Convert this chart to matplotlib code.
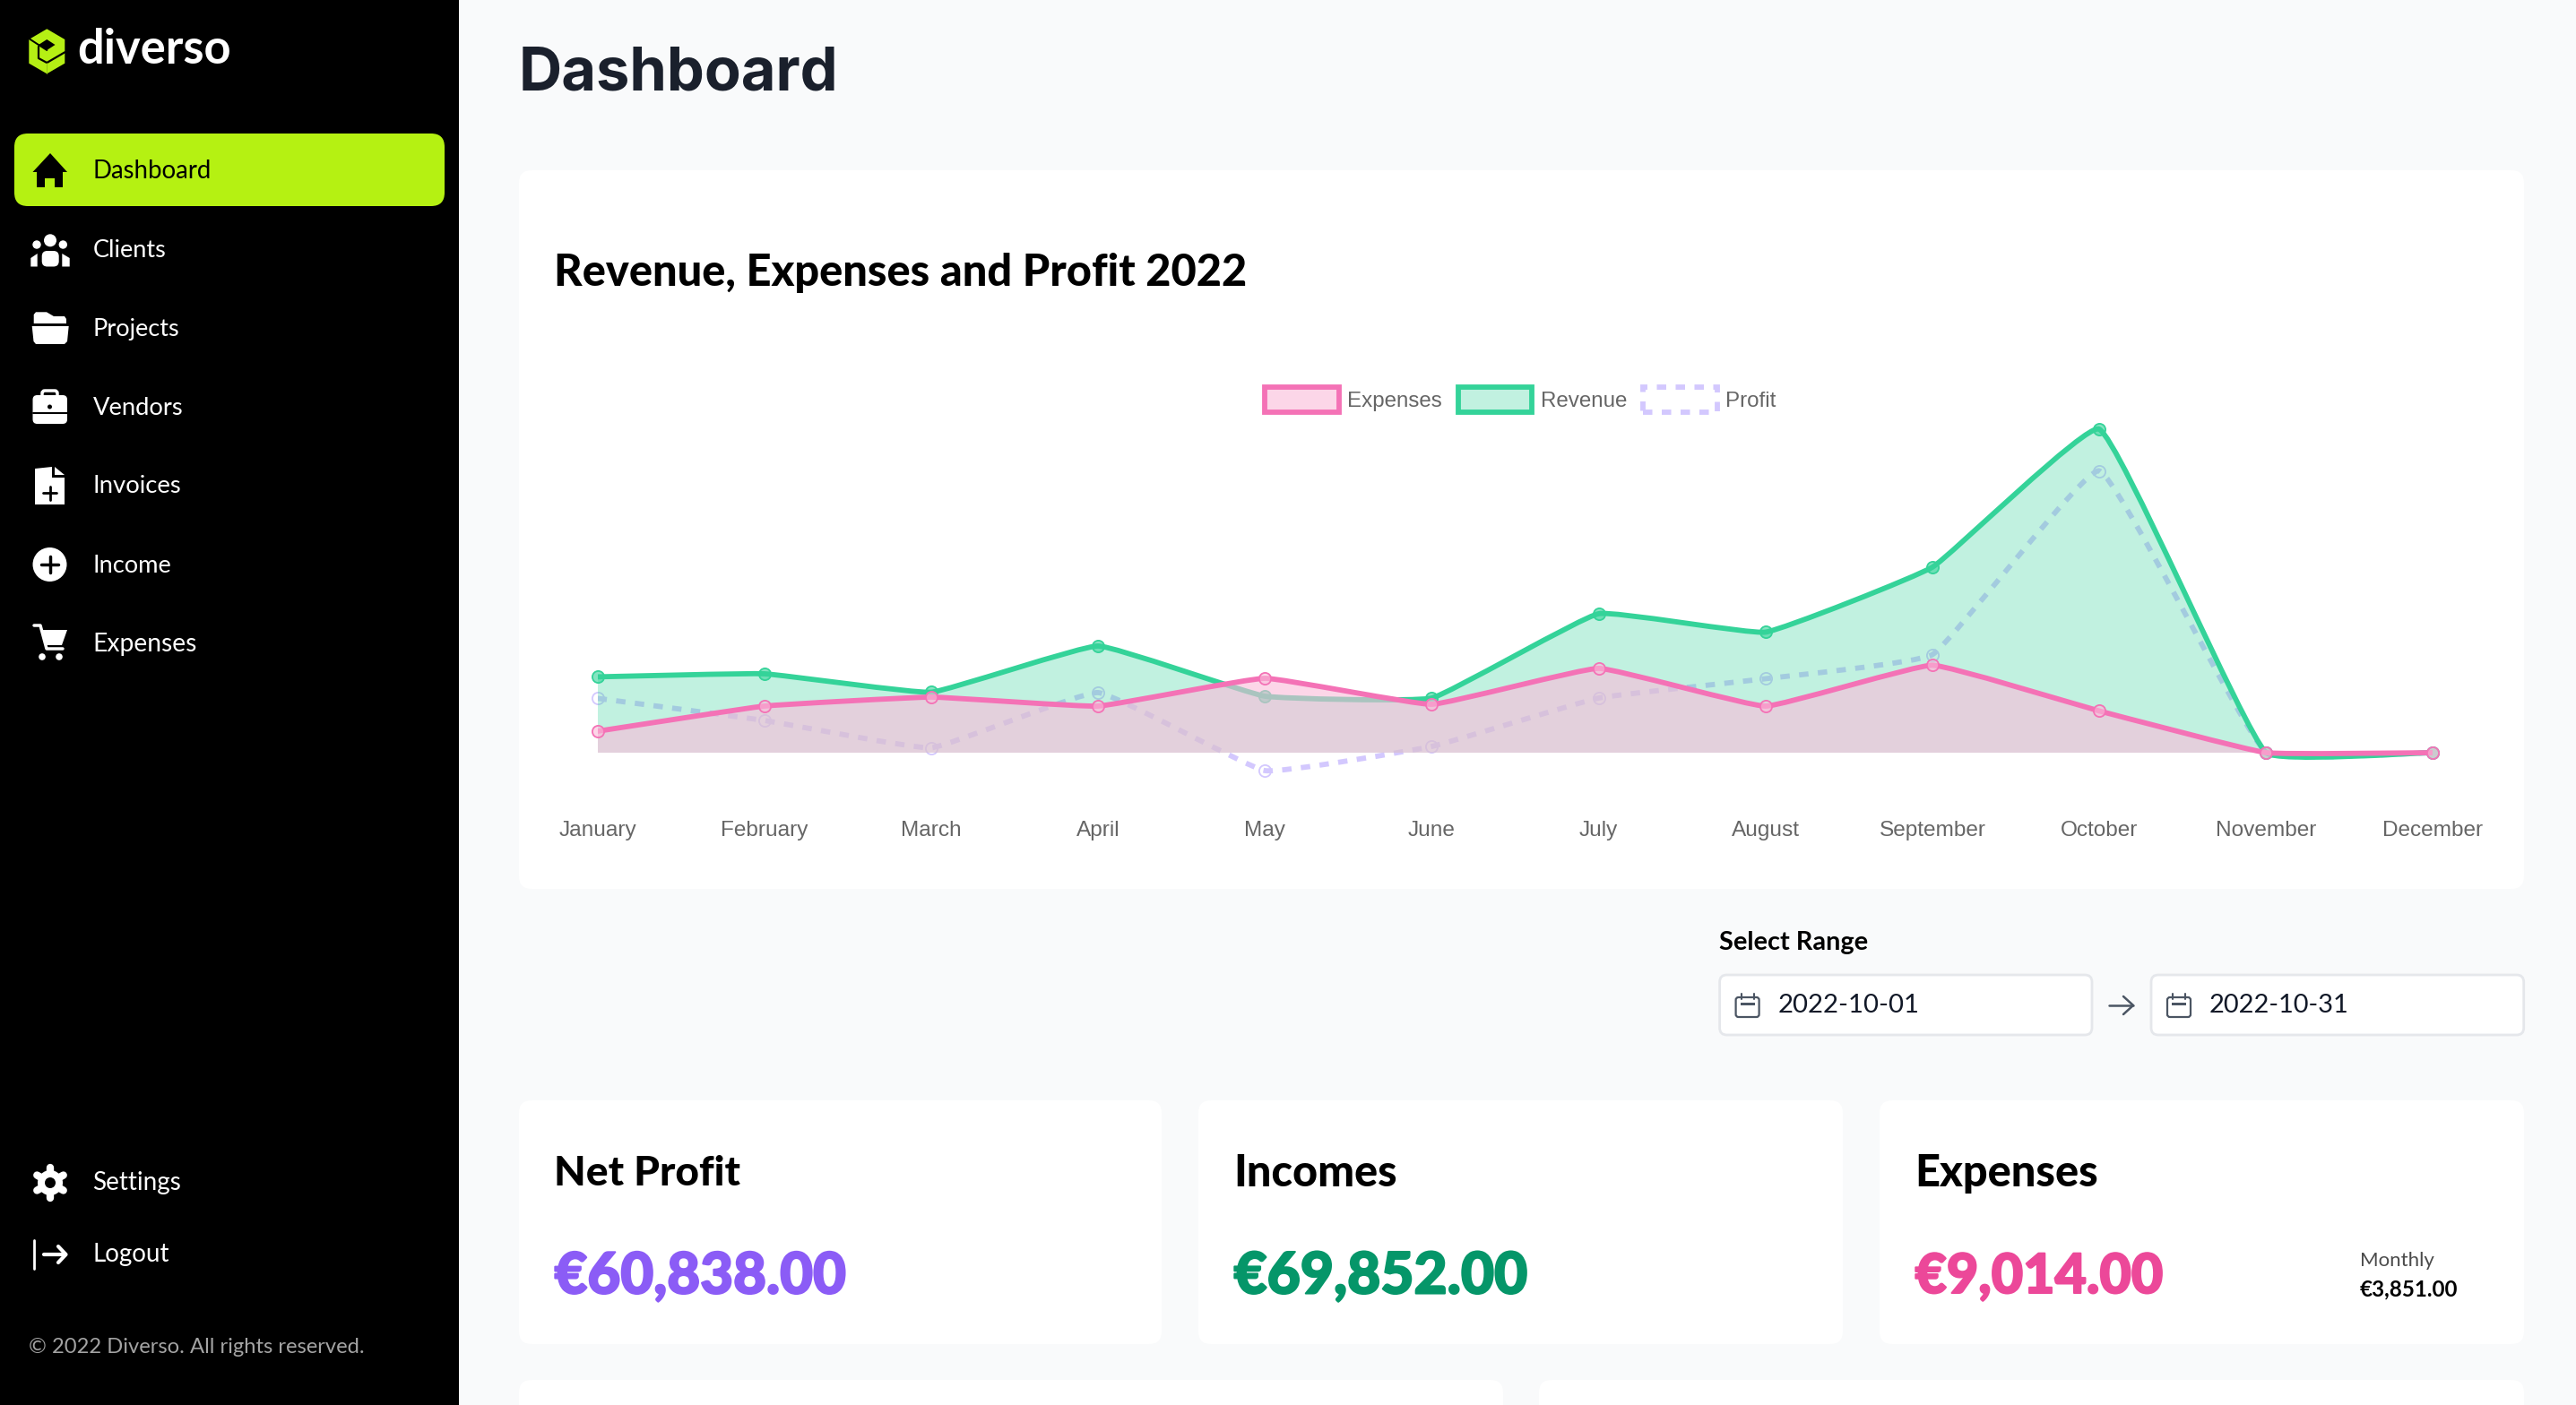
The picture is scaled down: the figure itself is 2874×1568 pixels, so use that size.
import numpy as np
import matplotlib
matplotlib.use('Agg')
import matplotlib.pyplot as plt
import matplotlib.patheffects as pe
from matplotlib.patches import Circle, FancyBboxPatch, Patch, PathPatch, Polygon, Rectangle
from matplotlib.path import Path

W, H = 2874, 1568
BASE_FONT = 'Lato'

months = ['January', 'February', 'March', 'April', 'May', 'June', 'July',
          'August', 'September', 'October', 'November', 'December']
revenue = [16370, 17030, 13060, 23030, 12190, 11800, 30000, 26030, 40050, 69852, 0, 0]
expenses = [4640, 10060, 12000, 10060, 16060, 10450, 18200, 10060, 18880, 9014, 0, 0]
profit = [11730, 6970, 1060, 12970, -3870, 1350, 11800, 15970, 21170, 60838, 0, 0]

GREEN, PINK, PURPLE = '#34d399', '#f472b6', '#d3c8fe'
PX_PER_EURO = 1 / 193.45

fig = plt.figure(figsize=(W / 100, H / 100), dpi=100, facecolor='#f9fafb')

# page axes in screen pixels, y pointing down
page = fig.add_axes([0, 0, 1, 1])
page.set_xlim(0, W)
page.set_ylim(H, 0)
page.axis('off')


def box(x0, y0, x1, y1, r=14, fc='white', ec='none', lw=0, z=1):
    page.add_patch(FancyBboxPatch((x0, y0), x1 - x0, y1 - y0, boxstyle=f'round,pad=0,rounding_size={r}',
                                  fc=fc, ec=ec, lw=lw, zorder=z))


def label(x, y, s, width, color='black', weight='normal', family=BASE_FONT):
    # the size follows from the width the text has in the screenshot
    t = page.text(x, y, s, color=color, fontweight=weight, family=family, fontsize=20, va='center', ha='left', zorder=5)
    bb = t.get_window_extent(fig.canvas.get_renderer())
    t.set_fontsize(20 * width / bb.width)
    return t


def poly(pts, fc='white', z=4):
    page.add_patch(Polygon(pts, closed=True, fc=fc, ec='none', zorder=z))


def dot(x, y, r, fc='white', z=4):
    page.add_patch(Circle((x, y), r, fc=fc, ec='none', zorder=z))


def stroke(xs, ys, color='white', lw=2.5, z=4):
    page.plot(xs, ys, color=color, lw=lw, solid_capstyle='round', solid_joinstyle='round', zorder=z)


def icon_home(c):
    poly([(36.5, 192), (56, 171), (75, 192), (70, 192), (70, 209), (61, 209), (61, 199), (50, 199), (50, 209), (41, 209), (41, 192)], fc=c)


def icon_clients(c):
    dot(56, 268.3, 7, fc=c)
    dot(41, 273, 4.7, fc=c)
    dot(70.3, 273, 4.7, fc=c)
    box(46.7, 280, 65.7, 297.5, r=6, fc=c, z=4)
    poly([(34.3, 297.5), (34.3, 288), (41.7, 283), (41.7, 297.5)], fc=c)
    poly([(77.7, 297.5), (77.7, 288), (69.3, 283), (69.3, 297.5)], fc=c)


def icon_folder(c):
    poly([(37.7, 361), (37.7, 351), (40, 348.3), (52, 348.3), (60, 353), (72, 353), (74, 356), (74, 361)], fc=c)
    poly([(35.7, 364), (76.7, 364), (75, 381), (72, 384), (40, 384), (37.5, 381)], fc=c)


def icon_case(c):
    box(36.5, 441, 75, 473, r=5, fc=c, z=4)
    page.add_patch(FancyBboxPatch((47, 436), 17, 9, boxstyle='round,pad=0,rounding_size=3', fc='none', ec=c, lw=2.5, zorder=4))
    stroke([36.5, 75], [461, 461], color='black', lw=1.5)
    dot(55.5, 454, 2.5, fc='black', z=5)


def icon_doc(c):
    poly([(39, 523), (58, 521), (58, 533), (72, 533), (72, 563), (39, 563)], fc=c)
    poly([(61, 521), (72, 530), (61, 530)], fc=c)
    stroke([48, 63], [550, 550], color='black', lw=2)
    stroke([55.5, 55.5], [543, 558], color='black', lw=2)


def icon_plus(c):
    dot(55.5, 630, 19, fc=c)
    stroke([46, 65], [630, 630], color='black', lw=2.5)
    stroke([55.5, 55.5], [621, 639], color='black', lw=2.5)


def icon_cart(c):
    stroke([38, 45, 52, 70], [698, 698, 724, 724], color=c, lw=2.5)
    poly([(46, 703), (75, 703), (69, 720), (50, 720)], fc=c)
    dot(47, 733, 3.8, fc=c)
    dot(66, 733, 3.8, fc=c)


def icon_gear(c):
    for a in np.arange(0, 360, 60):
        ca, sa = np.cos(np.radians(a + 90)), np.sin(np.radians(a + 90))
        stroke([56, 56 + 17 * ca], [1320, 1320 + 17 * sa], color=c, lw=6)
    dot(56, 1320, 14, fc=c)
    dot(56, 1320, 6, fc='black', z=5)


def icon_logout(c):
    stroke([38, 38], [1384, 1416], color=c, lw=2)
    stroke([49, 73], [1400, 1400], color=c, lw=3)
    stroke([65, 73.5, 65], [1391, 1400, 1409], color=c, lw=3)


def icon_calendar(x):
    c = '#4b5563'
    page.add_patch(FancyBboxPatch((x, 1113), 26, 22, boxstyle='round,pad=0,rounding_size=3', fc='none', ec=c, lw=1.6, zorder=4))
    stroke([x + 6, x + 6], [1109, 1115], color=c, lw=1.5)
    stroke([x + 20, x + 20], [1109, 1115], color=c, lw=1.5)
    page.add_patch(Rectangle((x + 5, 1119), 16, 3, fc=c, ec='none', zorder=4))


# sidebar
page.add_patch(Rectangle((0, 0), 512, H, fc='black', ec='none', zorder=1))
box(16, 149, 496, 230, r=15, fc='#b5f112', z=2)

# logo
LOGO = '#b5ef14'
poly([(52.3, 32.3), (72.3, 44), (72.3, 70.7), (52.3, 82.3), (32.3, 70.7), (32.3, 44)], fc=LOGO)
poly([(52.3, 44), (61.5, 50), (52.3, 56), (43, 50)], fc='black')
stroke([33, 43, 52.3], [43.5, 50, 56], color='black', lw=1.4, z=5)
stroke([43, 43, 52.3, 72.3], [52, 65, 70, 58.3], color='black', lw=1.6, z=5)
stroke([52.3, 52.3], [70, 82], color='#8fc010', lw=0.6, z=5)
label(86, 55, 'diverso', 172, color='white', weight='bold')

menu = [('Dashboard', 191, 132.7, icon_home), ('Clients', 279, 82.3, icon_clients), ('Projects', 367, 97, icon_folder),
        ('Vendors', 455, 101, icon_case), ('Invoices', 543, 99, icon_doc), ('Income', 631, 88.3, icon_plus),
        ('Expenses', 719, 116.7, icon_cart), ('Settings', 1320, 98.7, icon_gear), ('Logout', 1400, 85.4, icon_logout)]
for name, y, width, icon in menu:
    active = name == 'Dashboard'
    label(103.5, y, name, width, color='black' if active else 'white')
    icon('black' if active else 'white')
label(32, 1503, '© 2022 Diverso. All rights reserved.', 376, color='#a3a3a3')

# main area
label(579, 83, 'Dashboard', 358, color='#1a202c', weight='bold', family='Inter')
box(579, 190, 2816, 992)
label(618, 304, 'Revenue, Expenses and Profit 2022', 774, weight='black')

# chart axes, placed so January and December sit where they do in the page
top, bottom = 470, 880
chart = fig.add_axes([666.6 / W, 1 - bottom / H, (2714.4 - 666.6) / W, (bottom - top) / H], facecolor='none', zorder=3)
chart.set_xlim(0, 11)
chart.set_ylim(-(bottom - 840) / PX_PER_EURO, (840 - top) / PX_PER_EURO)
for side in chart.spines.values():
    side.set_visible(False)
chart.set_yticks([])
chart.set_xticks(range(12), months, family='Liberation Sans', fontsize=17.6, color='#666666')
chart.tick_params(axis='x', length=0, pad=26)


def bezier_path(values, tension=0.1):
    # same control points as chart.js line tension, worked out in screen space
    pts = chart.transData.transform(np.column_stack([np.arange(len(values)), values]))
    verts = [pts[0]]
    for i in range(len(pts) - 1):
        p0, p1, p2, p3 = pts[max(i - 1, 0)], pts[i], pts[i + 1], pts[min(i + 2, len(pts) - 1)]
        for_a = np.linalg.norm(p1 - p0), np.linalg.norm(p2 - p1)
        for_b = np.linalg.norm(p2 - p1), np.linalg.norm(p3 - p2)
        c1 = p1 + tension * for_a[1] / sum(for_a) * (p2 - p0)
        c2 = p2 - tension * for_b[0] / sum(for_b) * (p3 - p1)
        verts += [c1, c2, p2]
    return chart.transData.inverted().transform(np.array(verts))


def draw_series(values, color, fill_color, fill_alpha, z, dashed=False):
    verts = bezier_path(values)
    codes = [Path.MOVETO] + [Path.CURVE4] * (len(verts) - 1)
    if fill_color:
        area = np.vstack([verts, [[11, 0], [0, 0], verts[0]]])
        area_codes = codes + [Path.LINETO, Path.LINETO, Path.CLOSEPOLY]
        chart.add_patch(PathPatch(Path(area, area_codes), fc=fill_color, alpha=fill_alpha, ec='none', zorder=z))
    line = PathPatch(Path(verts, codes), fc='none', ec=color, lw=4.2, zorder=z + 0.1, capstyle='butt')
    if dashed:
        line.set_linestyle((0, (1.8, 1.8)))
    chart.add_patch(line)
    face = matplotlib.colors.to_rgba(fill_color, 0.6) if fill_color else 'none'
    chart.plot(range(12), values, ls='none', marker='o', ms=9.5, mfc=face, mec=color, mew=1.3, zorder=z + 0.2, clip_on=False)


# first dataset is drawn last
draw_series(profit, PURPLE, None, 0, 1, dashed=True)
draw_series(revenue, GREEN, GREEN, 0.3, 2)
draw_series(expenses, PINK, '#fabbda', 0.6, 3)

handles = [Patch(fc=matplotlib.colors.to_rgba('#fabbda', 0.6), ec=PINK, lw=4.2, label='Expenses'),
           Patch(fc=matplotlib.colors.to_rgba(GREEN, 0.3), ec=GREEN, lw=4.2, label='Revenue'),
           Patch(fc='none', ec=PURPLE, lw=4.2, ls=(0, (1.8, 1.8)), label='Profit')]
leg = fig.legend(handles=handles, loc='center', ncol=3, bbox_to_anchor=(1696.5 / W, 1 - 446 / H), frameon=False,
                 prop={'family': 'Liberation Sans', 'size': 17.4}, labelcolor='#666666', handlelength=3.4, handleheight=1.4,
                 handletextpad=0.4, columnspacing=0.75, borderpad=0, borderaxespad=0)

# date range
label(1918, 1052, 'Select Range', 166, weight='bold')
for x0, x1, text_x, text_w, day in [(1918.6, 2334, 1984, 158, '2022-10-01'), (2400, 2815.7, 2465, 156, '2022-10-31')]:
    box(x0, 1088, x1, 1155, r=8, ec='#e5e7eb', lw=2)
    icon_calendar(x0 + 18)
    label(text_x, 1122, day, text_w, color='#111827')
stroke([2353, 2380], [1122, 1122], color='#4b5563', lw=1.8)
stroke([2369, 2380, 2369], [1112, 1122, 1132], color='#4b5563', lw=1.8)

# summary cards
cards = [(579, 1296, 'Net Profit', 208, '€60,838.00', 325, '#8b5cf6'),
         (1337, 2056, 'Incomes', 183, '€69,852.00', 327, '#059669'),
         (2097, 2816, 'Expenses', 205, '€9,014.00', 276, '#ec4899')]
for x0, x1, title, title_w, amount, amount_w, color in cards:
    box(x0, 1228, x1, 1500)
    label(x0 + 39.5, 1310, title, title_w, weight='black')
    t = label(x0 + 39.5, 1425, amount, amount_w, color=color, weight='black')
    t.set_path_effects([pe.withStroke(linewidth=1.5, foreground=color)])
label(2633, 1407, 'Monthly', 83, color='#4b4b4b')
label(2633, 1439, '€3,851.00', 110, weight='bold')

# next row, cut off by the screenshot
box(579, 1540, 1677, 1620)
box(1717, 1540, 2816, 1620)

fig.savefig('out.png', dpi=100, facecolor=fig.get_facecolor())
